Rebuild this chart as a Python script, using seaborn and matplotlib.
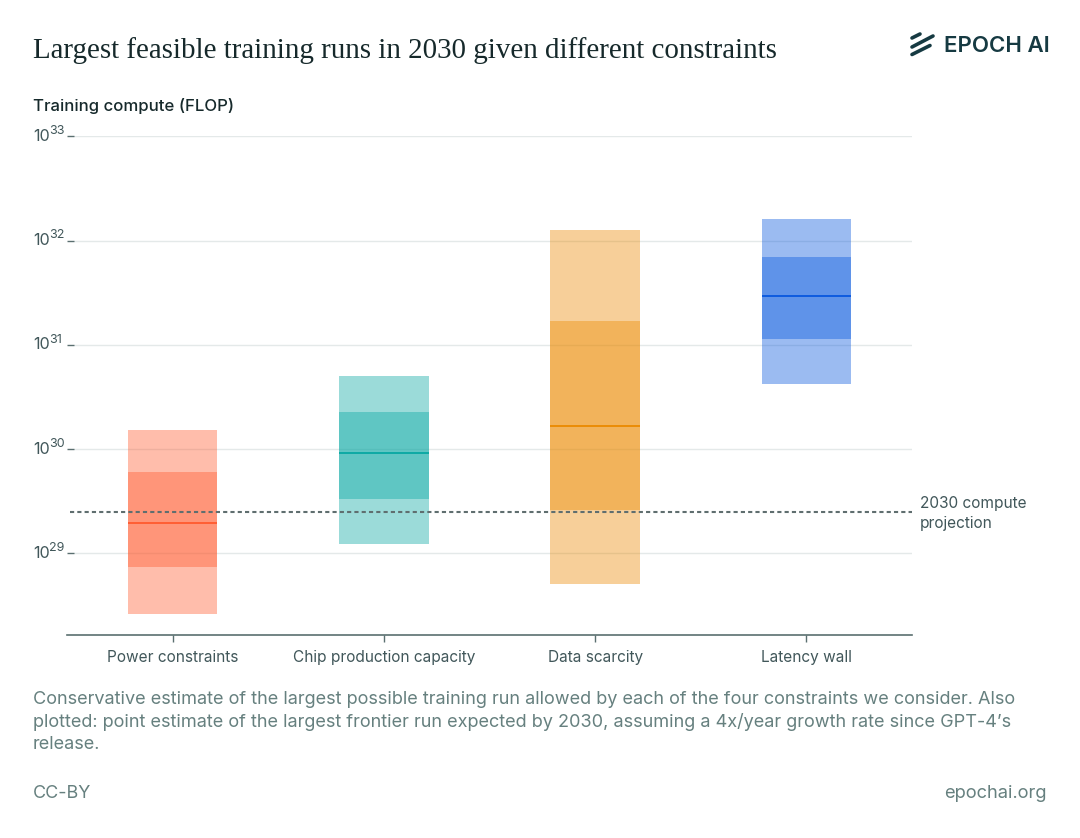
import matplotlib
matplotlib.use("Agg")
import matplotlib.pyplot as plt
from matplotlib.lines import Line2D
from matplotlib.ticker import FixedLocator, NullLocator
import pandas as pd
import seaborn as sns

categories = ["Power constraints", "Chip production capacity", "Data scarcity", "Latency wall"]
outer_low = [2.6e28, 1.22e29, 5.15e28, 4.18e30]
outer_high = [1.53e30, 5.04e30, 1.28e32, 1.62e32]
inner_low = [7.4e28, 3.33e29, 2.6e29, 1.13e31]
inner_high = [6.0e29, 2.27e30, 1.7e31, 6.98e31]
medians = [1.96e29, 9.2e29, 1.67e30, 2.92e31]
projection = 2.5e29
y_ticks = [1e29, 1e30, 1e31, 1e32, 1e33]
y_tick_labels = ["29", "30", "31", "32", "33"]
colors = ["#FF5A2E", "#07A7A2", "#EB8900", "#0757DE"]

W, H = 1080, 838
DARK = "#16292B"
TEXT = "#41575A"
MUTED = "#66807F"

sns.set_theme(style="white")
plt.rcParams["font.family"] = ["Inter", "DejaVu Sans"]

df = pd.DataFrame({
    "category": categories,
    "outer_low": outer_low,
    "outer_height": [h - l for h, l in zip(outer_high, outer_low)],
    "inner_low": inner_low,
    "inner_height": [h - l for h, l in zip(inner_high, inner_low)],
})

fig = plt.figure(figsize=(W / 100, H / 100), dpi=100, facecolor="white")
ax = fig.add_axes([67 / W, 1 - 635 / H, 845 / W, (635 - 136.5) / H])

# grid stops short of the axis, the tick fills the gap
for t in y_ticks:
    ax.plot([0.008, 1], [t, t], transform=ax.get_yaxis_transform(), color="#E4E9E9", lw=1, zorder=0)

# one call per bar, bottom would broadcast over the whole array otherwise
for i in range(len(categories)):
    row = df.iloc[[i]]
    sns.barplot(data=row, x="category", y="outer_height", order=categories, color=colors[i],
                bottom=outer_low[i], width=0.424, saturation=1, alpha=0.4, linewidth=0,
                errorbar=None, ax=ax, zorder=2)
    sns.barplot(data=row, x="category", y="inner_height", order=categories, color=colors[i],
                bottom=inner_low[i], width=0.424, saturation=1, alpha=0.4, linewidth=0,
                errorbar=None, ax=ax, zorder=3)
    ax.hlines(medians[i], i - 0.212, i + 0.212, color=colors[i], lw=1.3, zorder=4)

ax.plot([0.004, 1], [projection, projection], transform=ax.get_yaxis_transform(), color="#5F6E6F",
        lw=1.5, dashes=(2.0, 1.5), zorder=5)

ax.set_yscale("log")
ax.set_xlim(-0.5, 3.5)
ax.set_ylim(10 ** 28.218, 1e33)
ax.yaxis.set_major_locator(FixedLocator(y_ticks))
ax.yaxis.set_minor_locator(NullLocator())
ax.set_yticklabels([""] * len(y_ticks))
ax.tick_params(axis="y", which="major", direction="in", length=5, width=1, color="#5A6F70", left=True)
ax.tick_params(axis="x", direction="out", length=5, width=1, color="#5A6F70", labelsize=11.1,
               labelcolor=TEXT, pad=5.5, bottom=True)
ax.set_xlabel("")
ax.set_ylabel("")
for side in ["top", "left", "right"]:
    ax.spines[side].set_visible(False)
ax.spines["bottom"].set_color("#5A6F70")
ax.spines["bottom"].set_linewidth(1.2)

# the reference has a wide gap before the exponent, mathtext can't do that
for t, exp in zip(y_ticks, y_tick_labels):
    ax.annotate("10", xy=(0, t), xycoords=ax.get_yaxis_transform(), xytext=(-24.6, 0),
                textcoords="offset points", va="center", fontsize=11.6, color=TEXT)
    ax.annotate(exp, xy=(0, t), xycoords=ax.get_yaxis_transform(), xytext=(-13, 3.8),
                textcoords="offset points", va="center", fontsize=9, color=TEXT)


def put(x, y, s, **kw):
    kw.setdefault("va", "center")
    fig.text(x / W, 1 - y / H, s, **kw)


put(33, 51, "Largest feasible training runs in 2030 given different constraints",
    family=["Liberation Serif"], fontsize=20.85, color=DARK)
put(33, 105.5, "Training compute (FLOP)", fontsize=12.05, weight="medium", color=DARK)
put(920, 503, "2030 compute", fontsize=11.1, color=TEXT)
put(920, 523, "projection", fontsize=11.1, color=TEXT)

caption = [
    "Conservative estimate of the largest possible training run allowed by each of the four constraints we consider. Also",
    "plotted: point estimate of the largest frontier run expected by 2030, assuming a 4x/year growth rate since GPT-4\u2019s",
    "release.",
]
for y, line in zip([699.5, 721.5, 744.5], caption):
    put(33, y, line, fontsize=13.04, color=MUTED)
put(33, 793.5, "CC-BY", fontsize=12.9, color=MUTED)
put(1047, 793.5, "epochai.org", fontsize=13.2, color=MUTED, ha="right")

# logo
for x0, y0, x1, y1 in [(912, 38, 920, 34), (912, 47, 933, 36), (912, 54.5, 930, 45.5)]:
    fig.add_artist(Line2D([x0 / W, x1 / W], [1 - y0 / H, 1 - y1 / H], color="#163A42", lw=2.6,
                          solid_capstyle="round"))
put(944, 46, "EPOCH AI", fontsize=16, weight="semibold", color="#163A42")

fig.savefig("out.png", dpi=100)
